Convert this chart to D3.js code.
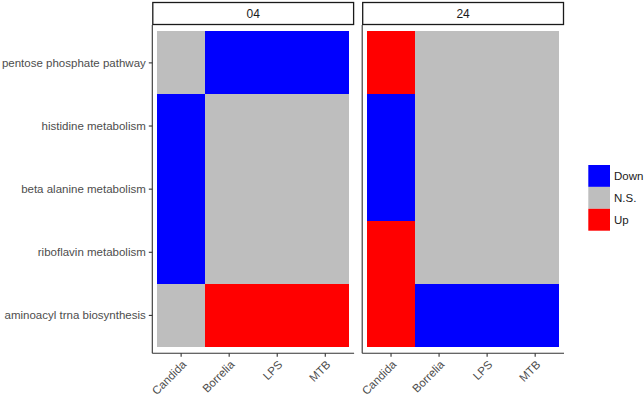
<!DOCTYPE html>
<html><head><meta charset="utf-8">
<script src="https://cdn.jsdelivr.net/npm/d3@7"></script>
<style>body{margin:0;background:#fff}svg{display:block}text{font-family:"Liberation Sans",Arial,sans-serif}</style>
</head><body><svg id="c" width="644" height="400"></svg>
<script>
const facets = ["04", "24"];
const conditions = ["Candida", "Borrelia", "LPS", "MTB"];
const pathways = ["pentose phosphate pathway", "histidine metabolism", "beta alanine metabolism", "riboflavin metabolism", "aminoacyl trna biosynthesis"];
const status04 = [
  ["N.S.", "Down", "Down", "Down"],
  ["Down", "N.S.", "N.S.", "N.S."],
  ["Down", "N.S.", "N.S.", "N.S."],
  ["Down", "N.S.", "N.S.", "N.S."],
  ["N.S.", "Up", "Up", "Up"]
];
const status24 = [
  ["Up", "N.S.", "N.S.", "N.S."],
  ["Down", "N.S.", "N.S.", "N.S."],
  ["Down", "N.S.", "N.S.", "N.S."],
  ["Up", "N.S.", "N.S.", "N.S."],
  ["Up", "Down", "Down", "Down"]
];
const levels = ["Down", "N.S.", "Up"];
const colors = ["#0000FF", "#BEBEBE", "#FF0000"];

const svg = d3.select("#c");
const color = d3.scaleOrdinal().domain(levels).range(colors);
const panelTop = 25, panelBottom = 353.3, panelW = 201.8;
const panelLefts = [152.3, 362.2];
const y = d3.scaleBand().domain(pathways).range([panelTop, panelBottom]).paddingInner(0).paddingOuter(0.1);
const grids = {"04": status04, "24": status24};

facets.forEach((f, i) => {
  const x0 = panelLefts[i];
  const x = d3.scaleBand().domain(conditions).range([x0, x0 + panelW]).paddingInner(0).paddingOuter(0.1);
  const g = svg.append("g");
  const cells = [];
  pathways.forEach((p, r) => conditions.forEach((c, k) => cells.push({p, c, v: grids[f][r][k]})));
  g.selectAll("rect.tile").data(cells).join("rect").attr("class", "tile")
    .attr("x", d => Math.round(x(d.c))).attr("y", d => Math.round(y(d.p)))
    .attr("width", d => Math.round(x(d.c) + x.bandwidth()) - Math.round(x(d.c)))
    .attr("height", d => Math.round(y(d.p) + y.bandwidth()) - Math.round(y(d.p)))
    .attr("shape-rendering", "crispEdges")
    .attr("fill", d => color(d.v));
  // strip
  g.append("rect").attr("x", x0 + 0.5).attr("y", 2.5).attr("width", panelW - 1).attr("height", panelTop - 3)
    .attr("fill", "#fff").attr("stroke", "#1a1a1a").attr("stroke-width", 1.3);
  g.append("text").attr("x", x0 + panelW / 2).attr("y", 14).attr("dy", "0.35em")
    .attr("text-anchor", "middle").attr("font-size", 12).attr("fill", "#1a1a1a").text(f);
  // x axis
  const xa = g.append("g").attr("transform", `translate(0,${panelBottom})`)
    .call(d3.axisBottom(x).tickSize(3.5).tickSizeOuter(0));
  xa.select(".domain").attr("stroke", "#333").attr("stroke-width", 1.1).attr("d", `M${x0},0H${x0 + panelW}`);
  xa.selectAll(".tick line").attr("stroke", "#333").attr("stroke-width", 1.1);
  xa.selectAll(".tick text").attr("font-size", 11.5).attr("fill", "#4d4d4d")
    .attr("font-family", "'Liberation Sans',Arial,sans-serif")
    .attr("text-anchor", "end").attr("dy", 0).attr("y", 0)
    .attr("transform", "translate(6,12) rotate(-45)");
  // y axis
  const ya = g.append("g").attr("transform", `translate(${x0},0)`)
    .call(d3.axisLeft(y).tickSize(i === 0 ? 3.5 : 0).tickSizeOuter(0));
  ya.select(".domain").attr("stroke", "#333").attr("stroke-width", 1.1).attr("d", `M0,${panelTop}V${panelBottom}`);
  ya.selectAll(".tick line").attr("stroke", "#333").attr("stroke-width", 1.1);
  ya.selectAll(".tick text").attr("font-size", 11.5).attr("fill", "#4d4d4d")
    .attr("font-family", "'Liberation Sans',Arial,sans-serif").attr("x", -6.5)
    .style("display", i === 0 ? null : "none");
});

// legend
const lg = svg.append("g").attr("transform", "translate(588.3,165)");
const keyH = 21.9, keyW = 21.7;
lg.selectAll("rect").data(levels).join("rect")
  .attr("x", 0).attr("y", (d, i) => i * keyH).attr("width", keyW).attr("height", keyH)
  .attr("fill", d => color(d));
lg.selectAll("text").data(levels).join("text")
  .attr("x", keyW + 4).attr("y", (d, i) => i * keyH + keyH / 2).attr("dy", "0.35em")
  .attr("font-size", 11.5).attr("fill", "#1a1a1a").text(d => d);
</script></body></html>
